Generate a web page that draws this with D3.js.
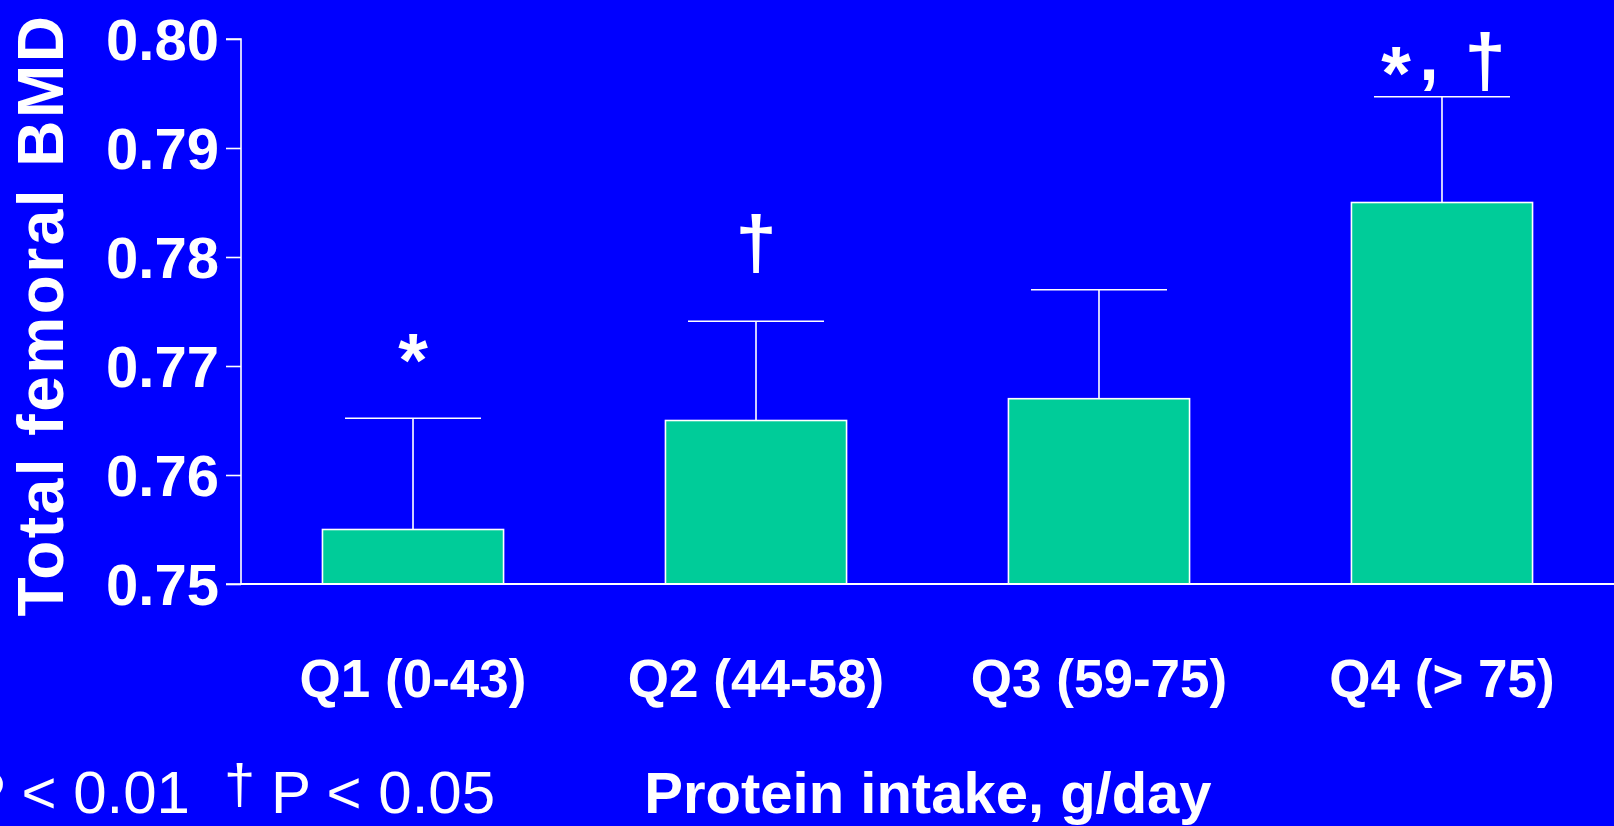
<!DOCTYPE html>
<html>
<head>
<meta charset="utf-8">
<script src="https://cdn.jsdelivr.net/npm/d3@7"></script>
<style>
  html, body { margin: 0; padding: 0; background: #0000FF; overflow: hidden; }
  svg { display: block; }
</style>
</head>
<body>
<svg id="chart" width="1614" height="826"></svg>
<script>
// ---- data ----
const categories = ["Q1 (0-43)", "Q2 (44-58)", "Q3 (59-75)", "Q4 (> 75)"];
const bmdMeans   = [0.755, 0.765, 0.767, 0.785];
const bmdErrors  = [0.0102, 0.0091, 0.0100, 0.0097];
const annotations = [["*"], ["\u2020"], [], ["*", ",", "\u2020"]];
const yTicks = [0.75, 0.76, 0.77, 0.78, 0.79, 0.80];
const yTitle = "Total femoral BMD";
const xTitle = "Protein intake, g/day";
const footnoteA = "* P < 0.01";
const footnoteDagger = "\u2020";
const footnoteB = "P < 0.05";

// ---- layout ----
const W = 1614, H = 826;
const axisX = 241, baseY = 584, topY = 39;
const svg = d3.select("#chart");
svg.append("rect").attr("width", W).attr("height", H).attr("fill", "#0000FF");

const y = d3.scaleLinear().domain([0.75, 0.80]).range([baseY, topY]);
const x = d3.scaleBand().domain(categories).range([axisX, W])
  .paddingInner(0.472).paddingOuter(0.2375);

const white = "#FFFFFF";
const font = "'Liberation Sans', Arial, sans-serif";

// bars
svg.append("g").selectAll("rect").data(categories).join("rect")
  .attr("x", d => x(d))
  .attr("y", (d, i) => y(bmdMeans[i]))
  .attr("width", x.bandwidth())
  .attr("height", (d, i) => baseY - y(bmdMeans[i]))
  .attr("fill", "#00CC99")
  .attr("stroke", white).attr("stroke-width", 1.6);

// error bars
const capHalf = 68;
const eb = svg.append("g").attr("stroke", white).attr("stroke-width", 1.6);
categories.forEach((c, i) => {
  const cx = x(c) + x.bandwidth() / 2;
  const yt = y(bmdMeans[i] + bmdErrors[i]);
  eb.append("line").attr("x1", cx).attr("x2", cx)
    .attr("y1", y(bmdMeans[i])).attr("y2", yt);
  eb.append("line").attr("x1", cx - capHalf).attr("x2", cx + capHalf)
    .attr("y1", yt).attr("y2", yt);
});

// y axis
const yAxis = d3.axisLeft(y).tickValues(yTicks).tickFormat(d3.format(".2f"))
  .tickSize(15).tickPadding(7);
const gy = svg.append("g").attr("transform", `translate(${axisX},0)`).call(yAxis);
gy.select(".domain").attr("stroke", white).attr("stroke-width", 1.6)
  .attr("d", `M-15,${topY}H0V${baseY}H-15`);
gy.selectAll(".tick line").attr("stroke", white).attr("stroke-width", 1.6);
gy.selectAll(".tick text").attr("fill", white).attr("dy", "0.36em")
  .style("font-family", font).style("font-weight", "bold").style("font-size", "58px");

// x baseline
svg.append("line").attr("x1", axisX).attr("x2", W).attr("y1", baseY).attr("y2", baseY)
  .attr("stroke", white).attr("stroke-width", 2);

// x category labels
const xAxis = d3.axisBottom(x).tickSize(0).tickPadding(0);
const gx = svg.append("g").attr("transform", `translate(0,${baseY})`).call(xAxis);
gx.select(".domain").remove();
gx.selectAll(".tick text").attr("fill", white).attr("y", 113).attr("dy", 0)
  .style("font-family", font).style("font-weight", "bold").style("font-size", "53px");

// significance annotations (symbol layout: dx from bar centre, baseline offset from cap)
const symStyle = { "*": 76, ",": 70, "\u2020": 74 };
const symLayout = [
  [[0, -32]],
  [[0, -53]],
  [],
  [[-46, 2], [-13, -17], [43, -11]]
];
const ann = svg.append("g").attr("fill", white)
  .style("font-family", font).style("font-weight", "bold");
categories.forEach((c, i) => {
  const cx = x(c) + x.bandwidth() / 2;
  const capY = y(bmdMeans[i] + bmdErrors[i]);
  annotations[i].forEach((s, k) => {
    const [dx, dy] = symLayout[i][k];
    ann.append("text")
      .attr("x", cx + dx).attr("y", capY + dy)
      .attr("text-anchor", "middle")
      .style("font-size", symStyle[s] + "px")
      .text(s);
  });
});

// axis titles
svg.append("text")
  .attr("transform", `translate(63,${315}) rotate(-90)`)
  .attr("text-anchor", "middle").attr("fill", white)
  .style("font-family", font).style("font-weight", "bold").style("font-size", "64px")
  .style("letter-spacing", "2.5px")
  .text(yTitle);

svg.append("text")
  .attr("x", 928).attr("y", 813).attr("text-anchor", "middle").attr("fill", white)
  .style("font-family", font).style("font-weight", "bold").style("font-size", "58px")
  .text(xTitle);

// footnote
svg.append("text")
  .attr("x", 190).attr("y", 813).attr("text-anchor", "end").attr("fill", white)
  .style("font-family", font).style("font-size", "60px")
  .text(footnoteA);
svg.append("text")
  .attr("x", 224).attr("y", 803).attr("fill", white)
  .style("font-family", font).style("font-size", "56px")
  .text(footnoteDagger);
svg.append("text")
  .attr("x", 271).attr("y", 813).attr("fill", white)
  .style("font-family", font).style("font-size", "60px")
  .text(footnoteB);
</script>
</body>
</html>
